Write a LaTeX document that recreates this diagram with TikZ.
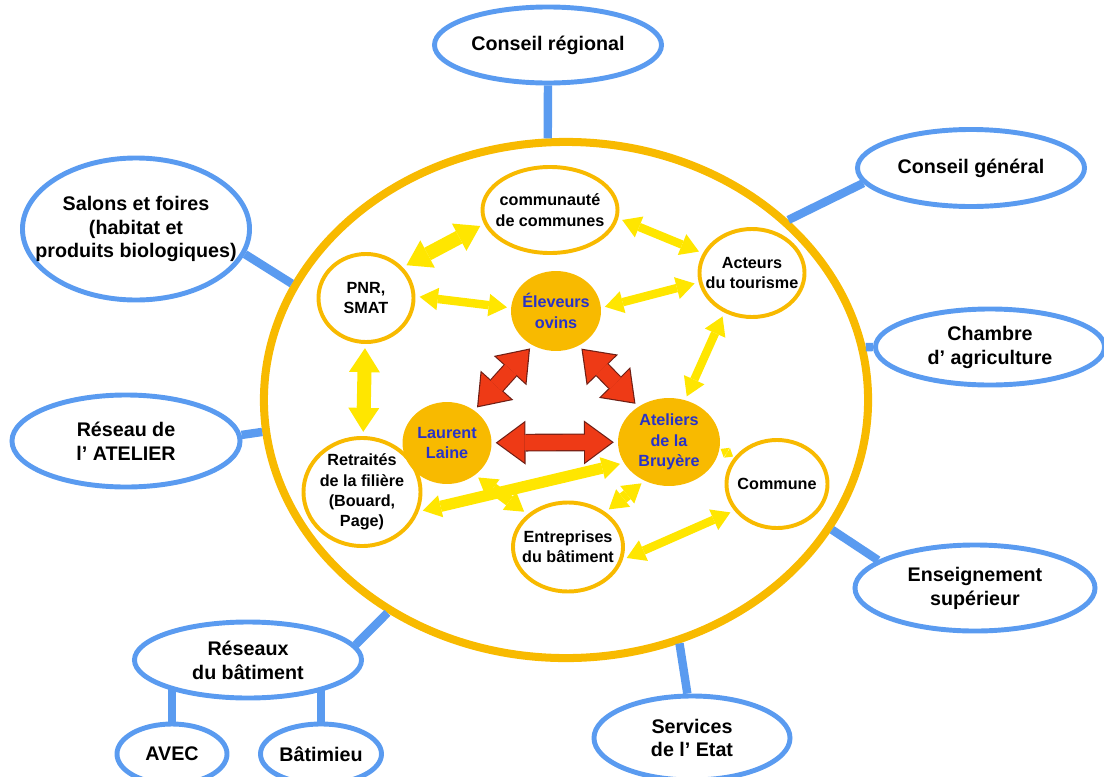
\documentclass[tikz,border=0pt]{standalone}
\usepackage{fontspec}
\setmainfont{Liberation Sans}
\usepackage{xcolor}
\usepackage{tikz}
\usetikzlibrary{arrows.meta, positioning, shapes.geometric}
\definecolor{ringgold}{RGB}{248,186,0}
\definecolor{linkblue}{RGB}{90,155,240}
\definecolor{coreblue}{RGB}{40,50,200}
\definecolor{arrowyellow}{RGB}{255,230,0}
\definecolor{arrowred}{RGB}{238,58,22}
\definecolor{redrim}{RGB}{110,30,20}
\pgfdeclarelayer{background}
\pgfsetlayers{background,main}

\begin{document}
\begin{tikzpicture}[
    x=0.025cm, y=-0.025cm,
    ring/.style={
        draw=ringgold,
        line width=5.7pt,
        ellipse,
        minimum width=15.1cm,
        minimum height=12.9cm
    },
    partner/.style={
        draw=linkblue,
        line width=3.5pt,
        fill=white,
        ellipse,
        inner sep=-1cm,
        align=center,
        font=\bfseries\fontsize{14}{17}\selectfont
    },
    actor/.style={
        draw=ringgold,
        line width=2.8pt,
        fill=white,
        ellipse,
        inner sep=-1cm,
        align=center,
        font=\bfseries\fontsize{11.5}{14.5}\selectfont
    },
    core/.style={actor, fill=ringgold, text=coreblue},
    link/.style={draw=linkblue, line width=6pt},
    yarrow/.style={
        draw=arrowyellow,
        line width=6pt,
        {Triangle[length=13pt,width=16pt,line width=0pt]}-{Triangle[length=13pt,width=16pt,line width=0pt]},
        shorten <=3pt, shorten >=3pt
    },
    ybold/.style={
        yarrow,
        line width=10pt,
        {Triangle[length=17pt,width=22pt,line width=0pt]}-{Triangle[length=17pt,width=22pt,line width=0pt]}
    },
    ysmall/.style={
        yarrow,
        line width=3pt,
        {Triangle[length=5pt,width=8pt,line width=0pt]}-{Triangle[length=5pt,width=8pt,line width=0pt]},
        shorten <=1pt, shorten >=1pt
    },
    rarrow/.style={
        draw=arrowred,
        line width=11pt,
        {Triangle[length=19pt,width=28pt,line width=0pt]}-{Triangle[length=19pt,width=28pt,line width=0pt]},
        shorten <=4.4pt, shorten >=4.4pt,
        preaction={
            draw=redrim,
            line width=12.6pt,
            {Triangle[length=21.2pt,width=31.2pt,line width=0pt]}-{Triangle[length=21.2pt,width=31.2pt,line width=0pt]},
            shorten <=3pt, shorten >=3pt
        }
    }
]
\useasboundingbox (0,0) rectangle (1104,776);

% Ring
\node[ring] (outer) at (566,400) {};

% Partners
\node[partner, minimum width=5.675cm, minimum height=1.9cm] (creg) at (548,45) {Conseil régional};
\node[partner, minimum width=5.675cm, minimum height=1.925cm] (cgen) at (971,168) {Conseil général};
\node[partner, minimum width=5.725cm, minimum height=1.9cm] (cham) at (990,347) {Chambre\\d’ agriculture};
\node[partner, minimum width=5.675cm, minimum height=3.55cm] (salon) at (136,229) {Salons et foires\\(habitat et\\produits biologiques)};
\node[partner, minimum width=5.7cm, minimum height=2.3cm] (ratel) at (126,441) {Réseau de\\l’ ATELIER};
\node[partner, minimum width=6cm, minimum height=2.15cm] (ens) at (975,588) {Enseignement\\supérieur};
\node[partner, minimum width=4.9cm, minimum height=2.1cm] (serv) at (692,738) {Services\\de l’ Etat};
\node[partner, minimum width=5.675cm, minimum height=1.9cm] (rbat) at (248,660) {Réseaux\\du bâtiment};
\node[partner, minimum width=2.75cm, minimum height=1.5cm] (avec) at (172,754) {AVEC};
\node[partner, minimum width=3.025cm, minimum height=1.5cm] (batim) at (321,754) {Bâtimieu};

% Actors
\node[actor, minimum width=3.375cm, minimum height=2.15cm] (comm) at (550,210) {communauté\\de communes};
\node[actor, minimum width=2.625cm, minimum height=2.2cm] (act) at (752,273) {Acteurs\\du tourisme};
\node[actor, minimum width=2.375cm, minimum height=2.2cm] (pnr) at (366,298) {PNR,\\SMAT};
\node[actor, minimum width=2.925cm, minimum height=2.7cm] (retr) at (362,492) {Retraités\\de la filière\\(Bouard,\\Page)};
\node[actor, minimum width=2.525cm, minimum height=2.2cm] (comu) at (777,484) {Commune};
\node[actor, minimum width=2.75cm, minimum height=2.225cm] (entr) at (568,547) {Entreprises\\du bâtiment};
\node[core, minimum width=2.15cm, minimum height=1.9cm] (elev) at (556,311) {Éleveurs\\ovins};
\node[core, minimum width=2.125cm, minimum height=1.95cm] (laur) at (447,443) {Laurent\\Laine};
\node[core, minimum width=2.45cm, minimum height=2.1cm] (atel) at (669,442) {Ateliers\\de la\\Bruyère};

% Links to the ring
\draw[link] (creg.south) -- (outer.94);
\draw[link] (cgen.188) -- (outer.39);
\draw[link] (cham.west) -- (outer.10);
\draw[link] (salon.-13) -- (outer.157);
\draw[link] (ratel.3) -- (outer.186);
\draw[link] (ens.164) -- (outer.-26);
\draw[link] (serv.96) -- (outer.-65);
\draw[link] (rbat.8) -- (outer.230);
\begin{pgfonlayer}{background}
\draw[link] (avec) -- (avec |- rbat.center);
\draw[link] (batim) -- (batim |- rbat.center);
\end{pgfonlayer}

% Exchanges
\draw[ybold] (pnr.40) -- (comm.192);
\draw[yarrow] (comm.-7) -- (act.158);
\draw[yarrow] (pnr.2) -- (elev.176);
\draw[yarrow] (elev.4) -- (act.190);
\draw[ybold] (pnr) -- (retr);
\draw[yarrow] (act.235) -- (atel.69);
\draw[yarrow, line width=8pt] (retr.-19) -- (atel.205);
\draw[yarrow, line width=8pt] (laur.-49) -- (entr.141);
\draw[yarrow, line width=8pt] (atel.238) -- (entr.43);
\draw[yarrow] (entr.-13) -- (comu.212);
\draw[ysmall] (atel.-7) -- (comu.148);

% Core triangle
\draw[rarrow] (laur.50) -- (elev.236);
\draw[rarrow] (elev.-57) -- (atel.131);
\draw[rarrow] (laur) -- (atel);
\end{tikzpicture}
\end{document}
